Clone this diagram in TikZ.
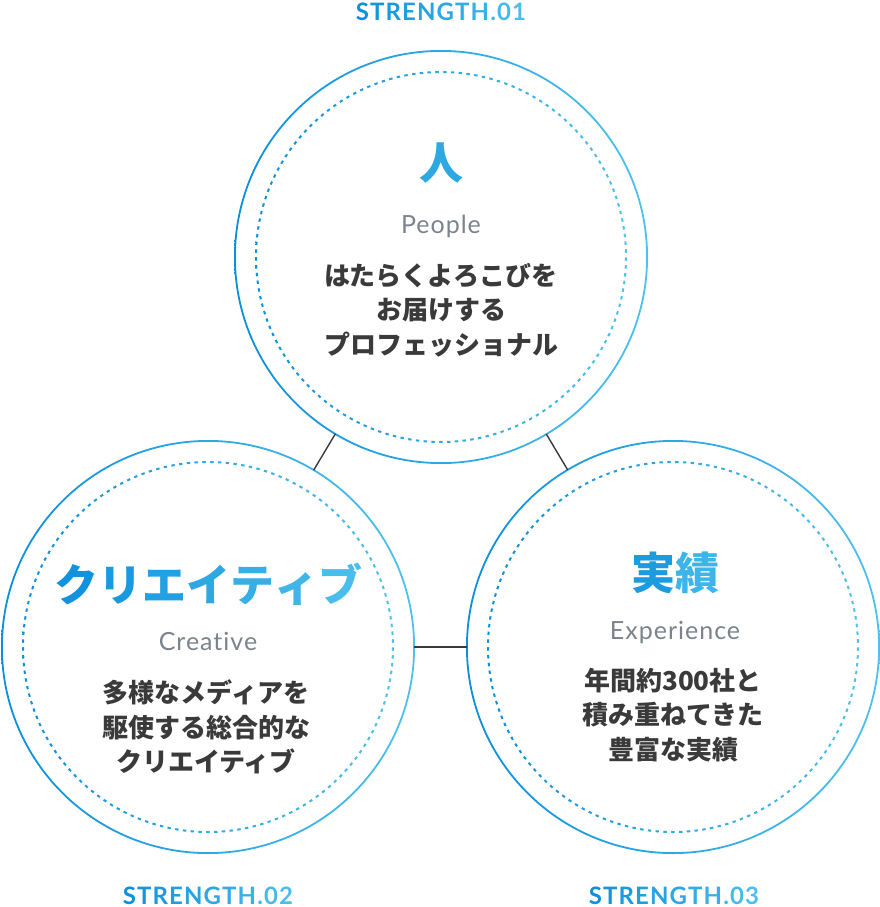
\documentclass[tikz,border=0pt]{standalone}
\usepackage{fontspec}
\setmainfont{Lato}
\newfontfamily\jp{Noto Sans CJK JP}
\newfontfamily\en[Ligatures=NoCommon]{Lato}
\definecolor{blueD}{HTML}{0B8FDB}
\definecolor{blueL}{HTML}{4FC1EC}
\definecolor{inkgray}{HTML}{3A3A3A}
\definecolor{subgray}{HTML}{7B838D}
\newlength{\GradGap}
\newcommand{\GradText}[2]{% #1 = number of letters, #2 = letters
\foreach \ch [count=\i] in {#2}{\pgfmathtruncatemacro{\pct}{100*(\i-0.5)/#1}\textcolor{blueL!\pct!blueD}{\ch}\ifnum\i<#1\kern\GradGap\fi}%
}
\newcommand{\Ring}[1]{
\shade[left color=blueD, right color=blueL, even odd rule] (#1.center) circle[radius=207pt] (#1.center) circle[radius=205.2pt]; % outer ring
\shade[left color=blueD, right color=blueL, even odd rule] (#1.center) circle[radius=186pt] (#1.center) circle[radius=184pt]; % inner ring
\draw[white, line width=3.5pt, dash pattern=on 4.2pt off 3.6pt] (#1.center) circle[radius=185pt]; % cutting the inner ring into dashes
}

\begin{document}
\begin{tikzpicture}[x=1pt, y=-1pt,
circ/.style={circle, minimum size=412pt, inner sep=0, outer sep=0},
strength/.style={font=\en\bfseries\fontsize{24}{24}\selectfont\setlength{\GradGap}{1.1pt}, anchor=base, inner sep=0},
title/.style={font=\jp\bfseries\fontsize{44}{44}\selectfont, inner sep=0},
sub/.style={font=\en\fontsize{25}{25}\selectfont\addfontfeatures{LetterSpace=4}, text=subgray, anchor=base, inner sep=0},
body/.style={font=\jp\bfseries\fontsize{26}{34.5}\selectfont, text=inkgray, align=center, inner sep=0},
link/.style={draw=inkgray, line width=1.4pt},
]
\useasboundingbox (0,0) rectangle (880,907); %%%%%%% SIZE OF THE PICTURE

%%%%%%%%%%%%%%%%%%%%%%%% CIRCLES %%%%%%%%%%%%%%%%%%%%%%%%%%%
\node[circ] (People) at (441,257) {};
\node[circ] (Creative) at (208,647) {};
\node[circ] (Experience) at (673,647) {};
\Ring{People}
\Ring{Creative}
\Ring{Experience}
\draw[link] (People) -- (Creative);
\draw[link] (People) -- (Experience);
\draw[link] (Creative) -- (Experience);

%%%%%%%%% STRENGTH.01 %%%%%%%%%%%%%
\node[strength] (S1) at (441,21) {\GradText{11}{S,T,R,E,N,G,T,H,.,0,1}};
\node[title] (T1) at (441,163) {\GradText{1}{人}};
\node[sub] (E1) at (441,233) {People};
\node[body] (B1) at (441,310) {はたらくよろこびを\\お届けする\\プロフェッショナル};

%%%%%%%%% STRENGTH.02 %%%%%%%%%%%%%
\node[title] (T2) at (208,584) {\GradText{7}{ク,リ,エ,イ,テ,ィ,ブ}};
\node[sub] (E2) at (208,650) {Creative};
\node[body] (B2) at (206,727) {多様なメディアを\\駆使する総合的な\\クリエイティブ};
\node[strength] (S2) at (208,904) {\GradText{11}{S,T,R,E,N,G,T,H,.,0,2}};

%%%%%%%%% STRENGTH.03 %%%%%%%%%%%%%
\node[title] (T3) at (675,573) {\GradText{2}{実,績}};
\node[sub] (E3) at (675,639) {Experience};
\node[body] (B3) at (673,715) {年間約300社と\\積み重ねてきた\\豊富な実績};
\node[strength] (S3) at (674,904) {\GradText{11}{S,T,R,E,N,G,T,H,.,0,3}};
\end{tikzpicture}
\end{document}
